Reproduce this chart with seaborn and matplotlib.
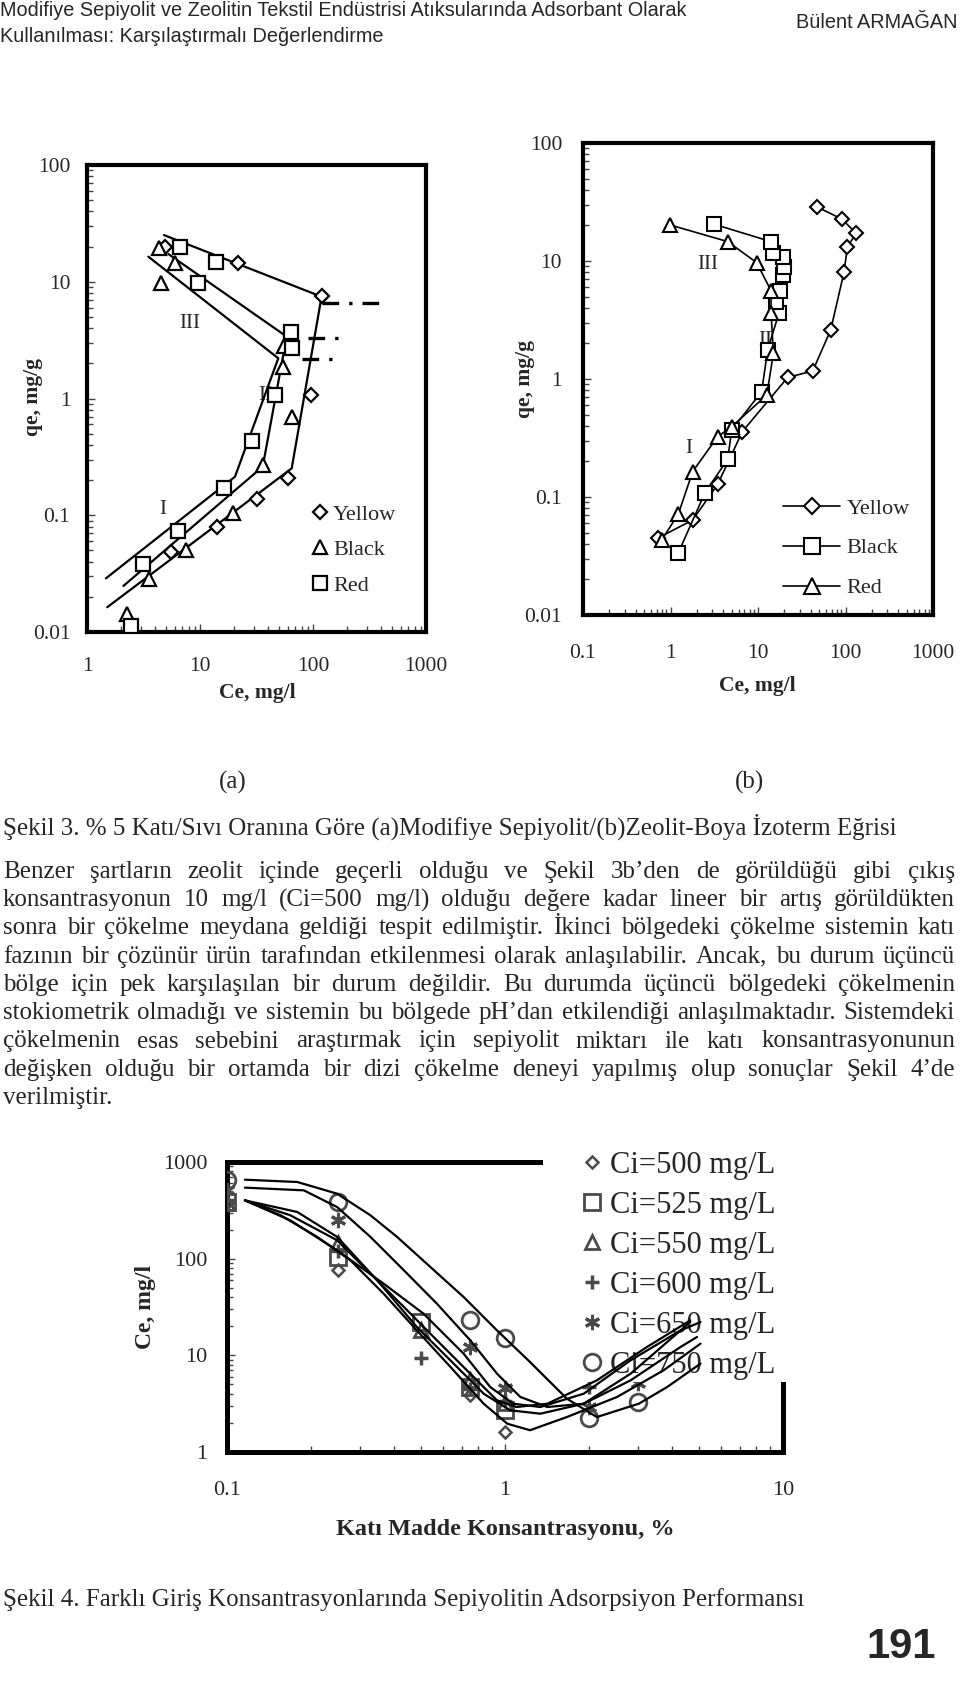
import numpy as np
import seaborn as sns
import matplotlib
matplotlib.use("Agg")
import matplotlib.pyplot as plt
from matplotlib import font_manager
from matplotlib.lines import Line2D
from matplotlib.patches import Rectangle
from matplotlib.ticker import FixedLocator, FixedFormatter, NullFormatter, LogLocator

W, H = 960, 1693

# ---------------- Şekil 3a : modifiye sepiyolit ----------------
a_yellow_ce = [4.9, 21.8, 121, 96, 60.5, 31.7, 14.1, 5.5]
a_yellow_qe = [19.7, 14.4, 7.6, 1.07, 0.21, 0.138, 0.080, 0.048]
a_black_ce = [4.36, 6.0, 4.49, 55.7, 54.6, 64.8, 36.3, 19.7, 7.47, 3.56, 2.24]
a_black_qe = [19.3, 14.6, 9.7, 2.82, 1.85, 0.70, 0.27, 0.104, 0.050, 0.0285, 0.0143]
a_red_ce = [6.65, 13.9, 9.66, 63.9, 65.6, 46.1, 28.7, 16.3, 6.35, 3.11, 2.45]
a_red_qe = [19.95, 14.7, 9.8, 3.73, 2.69, 1.07, 0.43, 0.172, 0.073, 0.038, 0.0112]

# region fit lines (I, II, III)
a_fit1_ce = [4.8, 119, 64.8, 1.51]
a_fit1_qe = [25.1, 7.45, 0.252, 0.0163]
a_fit2_ce = [5.24, 58.5, 35.9, 2.10]
a_fit2_qe = [17.3, 3.39, 0.261, 0.0248]
a_fit3_ce = [3.49, 49.3, 20.4, 1.47]
a_fit3_qe = [16.4, 2.21, 0.214, 0.0288]
# dash-dot saturation marks
a_sat_qe = [6.62, 3.28, 2.17]
a_sat_ce_start = [119, 90.9, 79.4]
a_sat_ce_end = [405, 205, 173]

# ---------------- Şekil 3b : zeolit ----------------
b_yellow_ce = [0.713, 1.79, 3.46, 6.62, 21.8, 42.2, 67.7, 96.1, 105, 132, 90.6, 46.9]
b_yellow_qe = [0.0447, 0.0638, 0.128, 0.358, 1.03, 1.17, 2.60, 8.02, 13.1, 17.2, 22.7, 28.8]
b_black_ce = [1.23, 2.48, 4.51, 5.0, 11.0, 12.9, 17.3, 15.9, 17.8, 19.4, 19.8, 19.1, 15.0, 14.1, 3.14]
b_black_qe = [0.0337, 0.109, 0.209, 0.370, 0.780, 1.76, 3.60, 4.52, 5.60, 7.6, 8.95, 10.9, 11.8, 14.6, 20.5]
b_red_ce = [0.793, 1.23, 1.79, 3.46, 5.0, 12.6, 15.0, 14.1, 14.1, 9.66, 4.51, 0.99]
b_red_qe = [0.0432, 0.0718, 0.164, 0.325, 0.394, 0.731, 1.65, 3.65, 5.60, 9.68, 14.6, 20.2]

# ---------------- Şekil 4 ----------------
c4_series = ["Ci=500 mg/L", "Ci=525 mg/L", "Ci=550 mg/L",
             "Ci=600 mg/L", "Ci=650 mg/L", "Ci=750 mg/L"]
c4_500_x = [0.1, 0.25, 0.75, 1.0]
c4_500_y = [380, 76, 3.9, 1.62]
c4_525_x = [0.1, 0.25, 0.5, 0.75, 1.0]
c4_525_y = [388, 105, 22.3, 4.74, 2.72]
c4_550_x = [0.1, 0.25, 0.5, 0.75, 1.0]
c4_550_y = [375, 144, 18.3, 5.55, 3.19]
c4_600_x = [0.1, 0.25, 0.5, 0.75, 1.0, 2.0]
c4_600_y = [400, 120, 9.3, 4.5, 3.4, 4.74]
c4_650_x = [0.1, 0.25, 0.75, 1.0, 2.0, 3.0]
c4_650_y = [512, 251, 12.3, 4.55, 2.94, 5.13]
c4_750_x = [0.1, 0.25, 0.75, 1.0, 2.0, 3.0]
c4_750_y = [650, 388, 23.2, 15.0, 2.23, 3.31]

# trend curves
c4_fit500_x = [0.116, 0.156, 0.211, 0.278, 0.366, 0.482, 0.636, 0.838, 1.02, 1.23, 1.67, 2.53, 3.72, 5.05]
c4_fit500_y = [401, 281, 168, 96, 43.4, 18.1, 7.6, 3.16, 1.96, 1.68, 2.30, 3.71, 7.0, 13.2]
c4_fit525_x = [0.116, 0.169, 0.249, 0.328, 0.433, 0.569, 0.750, 0.936, 1.10, 1.42, 2.14, 3.24, 4.64]
c4_fit525_y = [401, 281, 155, 70, 31.6, 14.3, 6.46, 3.42, 2.92, 3.16, 5.51, 12.2, 23.0]
c4_fit550_x = [0.116, 0.179, 0.249, 0.347, 0.482, 0.636, 0.838, 1.045, 1.34, 1.92, 2.83, 4.28, 4.91]
c4_fit550_y = [401, 304, 168, 59.7, 19.6, 8.88, 4.01, 2.70, 2.49, 3.16, 5.51, 12.2, 15.5]
c4_fit600_x = [0.116, 0.169, 0.249, 0.366, 0.509, 0.710, 0.885, 1.07, 1.34, 1.92, 2.83, 4.28, 5.05]
c4_fit600_y = [401, 249, 122, 55.1, 27.0, 10.4, 4.70, 3.16, 2.92, 4.01, 8.88, 18.1, 22.1]
c4_fit650_x = [0.116, 0.189, 0.249, 0.328, 0.433, 0.569, 0.750, 0.936, 1.135, 1.42, 1.92, 2.83, 4.64]
c4_fit650_y = [543, 509, 342, 168, 75.7, 34.2, 14.3, 6.46, 3.71, 2.92, 3.16, 6.46, 22.1]
c4_fit750_x = [0.116, 0.179, 0.249, 0.328, 0.409, 0.539, 0.710, 0.936, 1.23, 1.67, 2.14, 3.03, 3.83, 5.05]
c4_fit750_y = [656, 621, 470, 281, 168, 82, 40.1, 18.1, 8.53, 3.56, 2.30, 3.16, 4.70, 8.2]

header_lines = ["Modifiye Sepiyolit ve Zeolitin Tekstil Endüstrisi Atıksularında Adsorbant Olarak",
                "Kullanılması: Karşılaştırmalı Değerlendirme"]
header_author = "Bülent ARMAĞAN"
caption3 = "Şekil 3. % 5 Katı/Sıvı Oranına Göre (a)Modifiye Sepiyolit/(b)Zeolit-Boya İzoterm Eğrisi"
paragraph = [
    "Benzer şartların zeolit içinde geçerli olduğu ve Şekil 3b’den de görüldüğü gibi çıkış",
    "konsantrasyonun 10 mg/l (Ci=500 mg/l) olduğu değere kadar lineer bir artış görüldükten",
    "sonra bir çökelme meydana geldiği tespit edilmiştir. İkinci bölgedeki çökelme sistemin katı",
    "fazının bir çözünür ürün tarafından etkilenmesi olarak anlaşılabilir. Ancak, bu durum üçüncü",
    "bölge için pek karşılaşılan bir durum değildir. Bu durumda üçüncü bölgedeki çökelmenin",
    "stokiometrik olmadığı ve sistemin bu bölgede pH’dan etkilendiği anlaşılmaktadır. Sistemdeki",
    "çökelmenin esas sebebini araştırmak için sepiyolit miktarı ile katı konsantrasyonunun",
    "değişken olduğu bir ortamda bir dizi çökelme deneyi yapılmış olup sonuçlar Şekil 4’de",
    "verilmiştir.",
]
caption4 = "Şekil 4. Farklı Giriş Konsantrasyonlarında Sepiyolitin Adsorpsiyon Performansı"

sns.set_style("white")
plt.rcParams["font.family"] = ["Liberation Serif", "DejaVu Serif"]

names = {f.name for f in font_manager.fontManager.ttflist}
narrow = "Liberation Sans Narrow" if "Liberation Sans Narrow" in names else "Liberation Sans"

fig = plt.figure(figsize=(9.6, 16.93), dpi=100, facecolor="white")
renderer = fig.canvas.get_renderer()


def rect(x0, y0, x1, y1):
    return [x0 / W, 1 - y1 / H, (x1 - x0) / W, (y1 - y0) / H]


def ftext(x, y, s, **kw):
    return fig.text(x / W, 1 - y / H, s, **kw)


def text_width(s, **kw):
    t = fig.text(0, 0, s, **kw)
    w = t.get_window_extent(renderer).width
    t.remove()
    return w


def series(ax, x, y, **kw):
    sns.lineplot(x=x, y=y, ax=ax, sort=False, estimator=None, errorbar=None,
                 legend=False, **kw)


def log_axes(ax, xlim, ylim, xt, yt, size, lw, xpad, ypad):
    ax.set_xscale("log")
    ax.set_yscale("log")
    ax.set_xlim(*xlim)
    ax.set_ylim(*ylim)
    for axis, ticks in ((ax.xaxis, xt), (ax.yaxis, yt)):
        axis.set_major_locator(FixedLocator(ticks))
        axis.set_major_formatter(FixedFormatter([f"{v:g}" for v in ticks]))
        axis.set_minor_locator(LogLocator(base=10, subs=np.arange(2, 10)))
        axis.set_minor_formatter(NullFormatter())
    ax.tick_params(which="both", direction="in", top=False, right=False,
                   bottom=True, left=True, color="#444444", width=1)
    ax.tick_params(which="major", length=6, labelsize=size)
    ax.tick_params(which="minor", length=4)
    ax.tick_params(axis="x", pad=xpad)
    ax.tick_params(axis="y", pad=ypad)
    ax.set_xlabel("")
    ax.set_ylabel("")
    for s in ax.spines.values():
        s.set_visible(True)
        s.set_linewidth(lw)
        s.set_color("black")


open_kw = dict(color="black", markerfacecolor="white", markeredgecolor="black",
               markeredgewidth=1.6)

# ---------------- panel (a) ----------------
ax_a = fig.add_axes(rect(87, 165, 426, 632))
ax_a.set_xscale("log")
ax_a.set_yscale("log")
for xs, ys in ((a_fit1_ce, a_fit1_qe), (a_fit2_ce, a_fit2_qe), (a_fit3_ce, a_fit3_qe)):
    series(ax_a, xs, ys, color="black", linewidth=1.6, zorder=2)
for q, c0, c1 in zip(a_sat_qe, a_sat_ce_start, a_sat_ce_end):
    series(ax_a, [c0, c1], [q, q], color="black", linewidth=2.4,
           dashes=(5, 3, 1, 3), zorder=2)
series(ax_a, a_yellow_ce, a_yellow_qe, marker="D", markersize=7.5, linestyle="", zorder=3, **open_kw)
series(ax_a, a_black_ce, a_black_qe, marker="^", markersize=10, linestyle="", zorder=3, **open_kw)
series(ax_a, a_red_ce, a_red_qe, marker="s", markersize=10, linestyle="", zorder=3, **open_kw)
log_axes(ax_a, (1, 1000), (0.01, 100), [1, 10, 100, 1000], [0.01, 0.1, 1, 10, 100],
         15.5, 3, 18, 12)
ax_a.text(8.16, 4.4, "III", ha="center", va="center", fontsize=15, zorder=1)
ax_a.text(37.6, 1.07, "II", ha="center", va="center", fontsize=15, zorder=1)
ax_a.text(4.68, 0.111, "I", ha="center", va="center", fontsize=15, zorder=1)
hand_a = [Line2D([], [], marker="D", markersize=7.5, linestyle="", **open_kw),
          Line2D([], [], marker="^", markersize=10, linestyle="", **open_kw),
          Line2D([], [], marker="s", markersize=10, linestyle="", **open_kw)]
ax_a.legend(hand_a, ["Yellow", "Black", "Red"], loc="upper left",
            bbox_to_anchor=(311 / W, 1 - 504 / H), bbox_transform=fig.transFigure,
            frameon=False, fontsize=16, borderpad=0, borderaxespad=0,
            handlelength=0.8, handletextpad=0.2, labelspacing=0.68)
ftext(257, 693, "Ce, mg/l", ha="center", va="center", fontsize=15.5, fontweight="bold")
ftext(33, 397, "qe, mg/g", ha="center", va="center", rotation=90, fontsize=15.5,
      fontweight="bold")

# ---------------- panel (b) ----------------
ax_b = fig.add_axes(rect(583, 143, 933, 615))
ax_b.set_xscale("log")
ax_b.set_yscale("log")
line_kw = dict(color="black", linewidth=1.2, markerfacecolor="white",
               markeredgecolor="black", markeredgewidth=1.5, zorder=3)
series(ax_b, b_yellow_ce, b_yellow_qe, marker="D", markersize=7, **line_kw)
series(ax_b, b_black_ce, b_black_qe, marker="s", markersize=9.5, **line_kw)
series(ax_b, b_red_ce, b_red_qe, marker="^", markersize=9.5, **line_kw)
log_axes(ax_b, (0.1, 1000), (0.01, 100), [0.1, 1, 10, 100, 1000],
         [0.01, 0.1, 1, 10, 100], 15.5, 3, 21, 15)
ax_b.text(2.70, 9.25, "III", ha="center", va="center", fontsize=15, zorder=1)
ax_b.text(12.0, 2.14, "II", ha="center", va="center", fontsize=15, zorder=1)
ax_b.text(1.63, 0.259, "I", ha="center", va="center", fontsize=15, zorder=1)
hand_b = [Line2D([], [], marker=m, markersize=ms, linestyle="-", color="black",
                 linewidth=1.2, markerfacecolor="white", markeredgecolor="black",
                 markeredgewidth=1.5)
          for m, ms in (("D", 8), ("s", 11), ("^", 11))]
ax_b.legend(hand_b, ["Yellow", "Black", "Red"], loc="upper left",
            bbox_to_anchor=(783 / W, 1 - 498 / H), bbox_transform=fig.transFigure,
            frameon=False, fontsize=16, borderpad=0, borderaxespad=0,
            handlelength=2.57, handletextpad=0.3, labelspacing=0.87)
ftext(757, 686, "Ce, mg/l", ha="center", va="center", fontsize=15.5, fontweight="bold")
ftext(525, 379, "qe, mg/g", ha="center", va="center", rotation=90, fontsize=15.5,
      fontweight="bold")

# ---------------- Şekil 4 ----------------
ax_c = fig.add_axes(rect(227, 1162, 783, 1452))
ax_c.set_xscale("log")
ax_c.set_yscale("log")
grey = "#4a4a4a"
c4_markers = [("D", 6.5, 1.8), ("s", 11, 2.0), ("^", 10, 2.0), ("+", 10, 2.5),
              ((6, 2, 0), 11, 2.2), ("o", 12, 2.0)]
c4_points = [(c4_500_x, c4_500_y), (c4_525_x, c4_525_y), (c4_550_x, c4_550_y),
             (c4_600_x, c4_600_y), (c4_650_x, c4_650_y), (c4_750_x, c4_750_y)]
c4_fits = [(c4_fit500_x, c4_fit500_y), (c4_fit525_x, c4_fit525_y),
           (c4_fit550_x, c4_fit550_y), (c4_fit600_x, c4_fit600_y),
           (c4_fit650_x, c4_fit650_y), (c4_fit750_x, c4_fit750_y)]
for (xs, ys), (m, ms, mew) in zip(c4_points, c4_markers):
    series(ax_c, xs, ys, marker=m, markersize=ms, linestyle="", color=grey,
           markerfacecolor="none", markeredgecolor=grey, markeredgewidth=mew, zorder=1.2)
for xs, ys in c4_fits:
    series(ax_c, xs, ys, color="black", linewidth=1.6, zorder=2.2)
log_axes(ax_c, (0.1, 10), (1, 1000), [0.1, 1, 10], [1, 10, 100, 1000], 16, 3.6, 21, 14)
for s in ax_c.spines.values():
    s.set_zorder(1)
ax_c.add_patch(Rectangle((543 / W, 1 - 1382 / H), (805 - 543) / W, (1382 - 1128) / H,
                         transform=fig.transFigure, facecolor="white", edgecolor="none",
                         zorder=1.5, clip_on=False))
hand_c = [Line2D([], [], marker=m, markersize=ms, linestyle="", markerfacecolor="none",
                 markeredgecolor=grey, markeredgewidth=mew)
          for m, ms, mew in c4_markers]
leg = ax_c.legend(hand_c, c4_series, loc="upper left",
                  bbox_to_anchor=(583 / W, 1 - 1151 / H), bbox_transform=fig.transFigure,
                  frameon=False, fontsize=22, borderpad=0, borderaxespad=0,
                  handlelength=0.6, handletextpad=0.29, labelspacing=0.36)
leg.set_zorder(1.8)
ftext(505, 1530, "Katı Madde Konsantrasyonu, %", ha="center", va="center",
      fontsize=17.5, fontweight="bold")
ftext(145, 1307, "Ce, mg/l", ha="center", va="center", rotation=90, fontsize=17,
      fontweight="bold")

# ---------------- page text ----------------
hsize = 13 * 685 / text_width(header_lines[0], fontsize=13, family=narrow)
ftext(0, 11, header_lines[0], ha="left", va="center", fontsize=hsize, family=narrow)
ftext(0, 36, header_lines[1], ha="left", va="center", fontsize=hsize, family=narrow)
ftext(958, 22, header_author, ha="right", va="center", fontsize=hsize, family=narrow)

x_left, x_right = 3, 955
psize = 18
need = 0
for line in paragraph[:-1]:
    words = line.split(" ")
    tot = sum(text_width(w, fontsize=psize) for w in words)
    tot += (len(words) - 1) * 0.2 * psize * 100 / 72
    need = max(need, tot)
if need > x_right - x_left:
    psize *= (x_right - x_left) / need

ftext(233, 782, "(a)", ha="center", va="center", fontsize=psize)
ftext(750, 782, "(b)", ha="center", va="center", fontsize=psize)
ftext(x_left, 827, caption3, ha="left", va="center", fontsize=psize)
for i, line in enumerate(paragraph):
    y = 871.7 + i * 28.3
    if i == len(paragraph) - 1:
        ftext(x_left, y, line, ha="left", va="center", fontsize=psize)
        continue
    words = line.split(" ")
    widths = [text_width(w, fontsize=psize) for w in words]
    gap = (x_right - x_left - sum(widths)) / (len(words) - 1)
    x = x_left
    for w, wd in zip(words, widths):
        ftext(x, y, w, ha="left", va="center", fontsize=psize)
        x += wd + gap

ftext(x_left, 1600, caption4, ha="left", va="center", fontsize=psize)
ftext(936, 1647, "191", ha="right", va="center", fontsize=30, fontweight="bold",
      family=narrow)

fig.savefig("out.png", dpi=100, facecolor="white")
